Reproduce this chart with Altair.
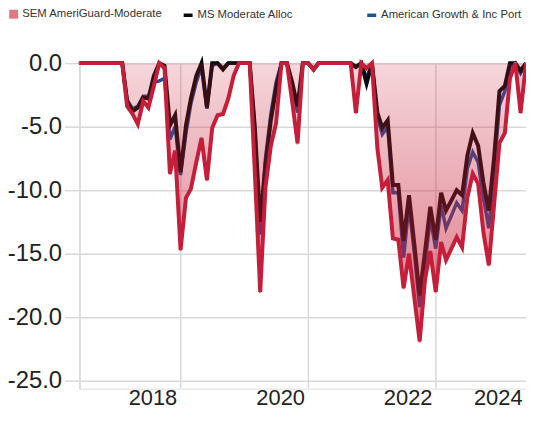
import altair as alt
import pandas as pd

# ---------------- data ----------------
months = [
    "2017-05-31", "2017-06-30", "2017-07-31", "2017-08-31", "2017-09-30", "2017-10-31",
    "2017-11-30", "2017-12-31", "2018-01-31", "2018-02-28", "2018-03-31", "2018-04-30",
    "2018-05-31", "2018-06-30", "2018-07-31", "2018-08-31", "2018-09-30", "2018-10-31",
    "2018-11-30", "2018-12-31", "2019-01-31", "2019-02-28", "2019-03-31", "2019-04-30",
    "2019-05-31", "2019-06-30", "2019-07-31", "2019-08-31", "2019-09-30", "2019-10-31",
    "2019-11-30", "2019-12-31", "2020-01-31", "2020-02-29", "2020-03-31", "2020-04-30",
    "2020-05-31", "2020-06-30", "2020-07-31", "2020-08-31", "2020-09-30", "2020-10-31",
    "2020-11-30", "2020-12-31", "2021-01-31", "2021-02-28", "2021-03-31", "2021-04-30",
    "2021-05-31", "2021-06-30", "2021-07-31", "2021-08-31", "2021-09-30", "2021-10-31",
    "2021-11-30", "2021-12-31", "2022-01-31", "2022-02-28", "2022-03-31", "2022-04-30",
    "2022-05-31", "2022-06-30", "2022-07-31", "2022-08-31", "2022-09-30", "2022-10-31",
    "2022-11-30", "2022-12-31", "2023-01-31", "2023-02-28", "2023-03-31", "2023-04-30",
    "2023-05-31", "2023-06-30", "2023-07-31", "2023-08-31", "2023-09-30", "2023-10-31",
    "2023-11-30", "2023-12-31", "2024-01-31", "2024-02-29", "2024-03-31", "2024-04-30",
    "2024-05-31",
]

sem = [
    0, 0, 0, 0, 0, 0,
    0, 0, 0, -3.4, -4.0, -4.8,
    -3.0, -3.5, -1.8, 0, -0.4, -8.7,
    -6.9, -14.7, -10.6, -9.9, -7.8, -5.9,
    -9.2, -5.1, -4.1, -4.0, -2.8, -1.0,
    0, 0, 0, -8.5, -18.0, -9.8,
    -6.5, -4.7, 0, 0, -3.0, -6.3,
    0, 0, -0.5, 0, 0, 0,
    0, 0, 0, 0, -3.9, 0,
    -0.4, 0, -6.7, -9.8, -9.2, -13.8,
    -13.9, -17.7, -15.0, -18.5, -21.9, -17.0,
    -14.8, -18.0, -14.1, -15.5, -14.6, -13.7,
    -14.5, -10.6, -8.7, -9.5, -13.3, -15.9,
    -11.2, -6.3, -5.5, -1.2, 0, -3.9,
    0,
]

ms = [
    0, 0, 0, 0, 0, 0,
    0, 0, 0, -3.0, -3.8, -3.5,
    -2.7, -2.8, -1.0, 0, -0.2, -4.9,
    -4.1, -8.6, -4.9, -2.8, -1.0, 0,
    -3.5, 0, 0, -0.5, 0, 0,
    0, 0, 0, -5.0, -12.5, -8.0,
    -4.5, -2.0, 0, 0, -1.5, -3.4,
    0, 0, -0.5, 0, 0, 0,
    0, 0, 0, 0, -0.3, 0,
    -1.6, 0, -3.9, -5.1, -4.5, -9.6,
    -9.6, -14.0, -10.4, -14.3, -18.3, -14.8,
    -11.3, -13.9, -10.2, -11.6, -10.8, -10.0,
    -10.4, -7.3, -5.5, -6.5, -9.4, -11.6,
    -7.5, -2.2, -1.8, 0, 0, -0.6,
    0,
]

agi = [
    0, 0, 0, 0, 0, 0,
    0, 0, 0, -2.9, -3.6, -3.4,
    -2.6, -2.6, -1.5, -1.4, -1.2, -6.0,
    -5.0, -8.8, -5.5, -3.2, -1.5, -0.3,
    -3.6, -0.2, 0, -0.4, 0, 0,
    0, 0, 0, -5.2, -13.5, -7.5,
    -4.0, -1.5, 0, 0, -1.8, -3.9,
    0, 0, -0.5, 0, 0, 0,
    0, 0, 0, 0, -0.3, 0,
    -1.2, 0, -4.2, -5.6, -5.0, -10.2,
    -10.2, -15.3, -11.2, -15.0, -19.2, -15.8,
    -12.2, -14.6, -11.2, -13.0, -12.0, -11.0,
    -11.6, -8.3, -7.0, -7.8, -10.6, -13.0,
    -8.5, -3.3, -2.2, -0.3, 0, -0.8,
    0,
]

series_names = ["SEM AmeriGuard-Moderate", "MS Moderate Alloc", "American Growth & Inc Port"]
y_ticks = [0, -5, -10, -15, -20, -25]
year_lines = ["2019-01-01", "2021-01-01", "2023-01-01"]

# ---------------- tables ----------------
sem_df = pd.DataFrame({"date": months, "value": sem, "series": series_names[0]})
ms_df = pd.DataFrame({"date": months, "value": ms, "series": series_names[1]})
agi_df = pd.DataFrame({"date": months, "value": agi, "series": series_names[2]})
grid_df = pd.DataFrame({"date": year_lines})

FONT = "Liberation Sans, Arial, sans-serif"
GRID = "#d9d9d9"


def dt(y, m, d):
    return alt.DateTime(year=y, month=m, date=d, utc=True)


x_scale = alt.Scale(domain=[dt(2017, 5, 31), dt(2024, 5, 31)], nice=False)
x_axis = alt.Axis(
    title=None,
    values=[dt(2019, 1, 1), dt(2021, 1, 1), dt(2023, 1, 1), dt(2024, 5, 31)],
    labelExpr="utcFormat(datum.value - 172800000, '%Y')",
    labelAlign="right",
    labelOffset=-4,
    labelPadding=-1,
    labelFont=FONT,
    labelFontSize=22,
    labelColor="#222222",
    labelOverlap=False,
    labelFlush=False,
    labelBound=False,
    ticks=False,
    domain=False,
    grid=False,
)

y_scale = alt.Scale(domain=[-25.62, 0], nice=False, zero=False)
y_axis = alt.Axis(
    title=None,
    values=y_ticks,
    labelExpr="(datum.value < 0 ? '-' : '') + format(abs(datum.value), '.1f')",
    labelFont=FONT,
    labelFontSize=24,
    labelColor="#222222",
    labelPadding=3,
    tickSize=15,
    tickColor=GRID,
    tickWidth=1.5,
    domainColor=GRID,
    domainWidth=1.5,
    gridColor=GRID,
    gridWidth=1.5,
)

line_color_scale = alt.Scale(domain=series_names[1:], range=["#0a0a0a", "#1f5096"])
line_legend = alt.Legend(
    title=None,
    orient="none",
    legendX=103,
    legendY=-55,
    direction="horizontal",
    columns=2,
    gridAlign="all",
    columnPadding=22,
    labelFont=FONT,
    labelFontSize=11.4,
    labelColor="#333333",
    labelOffset=3,
    labelLimit=400,
    symbolType="stroke",
    symbolSize=81,
    symbolStrokeWidth=3.5,
)

sem_fill_scale = alt.Scale(domain=series_names[:1], range=["#e27885"])
sem_legend = alt.Legend(
    title=None,
    orient="none",
    legendX=-72,
    legendY=-55,
    direction="horizontal",
    labelFont=FONT,
    labelFontSize=11.4,
    labelColor="#333333",
    labelOffset=3,
    labelLimit=400,
    symbolType="square",
    symbolSize=81,
    symbolStrokeWidth=0,
)

grid_rules = alt.Chart(grid_df).mark_rule(color=GRID, strokeWidth=1.5).encode(
    x=alt.X("date:T", scale=x_scale, axis=x_axis)
)

agi_line = alt.Chart(agi_df).mark_line(strokeWidth=3.5).encode(
    x=alt.X("date:T", scale=x_scale, axis=x_axis),
    y=alt.Y("value:Q", scale=y_scale, axis=y_axis),
    color=alt.Color("series:N", scale=line_color_scale, legend=line_legend),
)

ms_line = alt.Chart(ms_df).mark_line(strokeWidth=4).encode(
    x=alt.X("date:T", scale=x_scale, axis=x_axis),
    y=alt.Y("value:Q", scale=y_scale, axis=y_axis),
    color=alt.Color("series:N", scale=line_color_scale, legend=line_legend),
)

sem_area = alt.Chart(sem_df).mark_area(
    color=alt.Gradient(
        gradient="linear",
        stops=[
            alt.GradientStop(color="rgba(200,30,55,0.18)", offset=0),
            alt.GradientStop(color="rgba(200,30,55,0.62)", offset=1),
        ],
        x1=1, x2=1, y1=0, y2=1,
    )
).encode(
    x=alt.X("date:T", scale=x_scale, axis=x_axis),
    y=alt.Y("value:Q", scale=y_scale, axis=y_axis),
)

# tiny squares on the SEM points (hidden under the red line) carry the SEM legend entry
sem_key = alt.Chart(sem_df).mark_point(shape="square", filled=True, size=6, opacity=1).encode(
    x=alt.X("date:T", scale=x_scale, axis=x_axis),
    y=alt.Y("value:Q", scale=y_scale, axis=y_axis),
    fill=alt.Fill("series:N", scale=sem_fill_scale, legend=sem_legend),
)

sem_line = alt.Chart(sem_df).mark_line(color="#c41e3a", strokeWidth=4).encode(
    x=alt.X("date:T", scale=x_scale, axis=x_axis),
    y=alt.Y("value:Q", scale=y_scale, axis=y_axis),
)

chart = alt.layer(grid_rules, agi_line, ms_line, sem_area, sem_key, sem_line).properties(
    width=450,
    height=328,
    autosize=alt.AutoSizeParams(type="none"),
    padding={"left": 72, "top": 54, "right": 0, "bottom": 23},
).configure_view(stroke=None).configure(background="white")

chart.save("out.html", embed_options={"renderer": "svg", "actions": False})
